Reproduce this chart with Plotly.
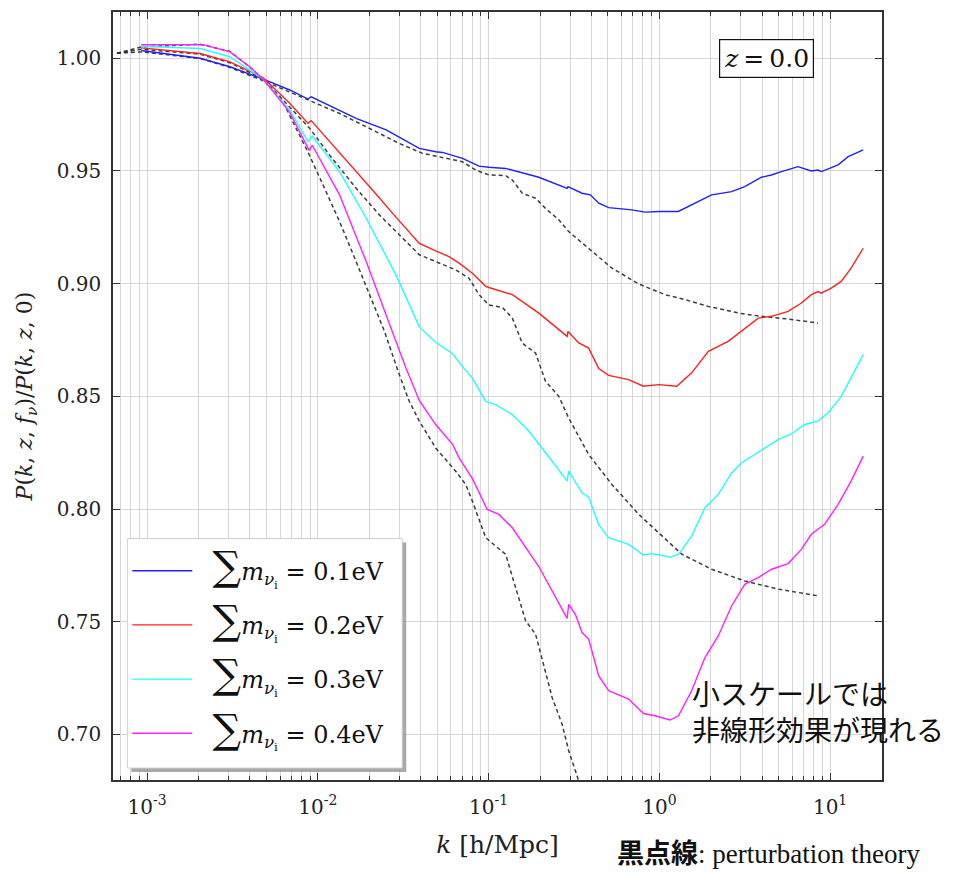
import numpy as np
import plotly.graph_objects as go

# ---- data: log10(k [h/Mpc]) and P(k,z,f_nu)/P(k,z,0) ----
logk_01 = [-3.035, -2.69, -2.515, -2.32, -2.165, -2.058, -2.039, -1.776, -1.60, -1.406, -1.31, -1.27,
           -1.153, -1.056, -0.998, -0.90, -0.706, -0.54, -0.535, -0.453, -0.404, -0.355, -0.297, -0.161,
           -0.083, 0.005, 0.111, 0.189, 0.306, 0.423, 0.50, 0.598, 0.656, 0.715, 0.812, 0.89, 0.929, 0.95,
           0.99, 1.047, 1.106, 1.194]
ratio_01 = [1.0034, 1.0000, 0.9962, 0.9907, 0.9859, 0.9819, 0.9829, 0.9733, 0.9682, 0.9600, 0.9585, 0.9582,
            0.9556, 0.9521, 0.9516, 0.9511, 0.9472, 0.9423, 0.9430, 0.9401, 0.9394, 0.9357, 0.9337, 0.9327,
            0.9317, 0.9320, 0.9320, 0.9349, 0.9394, 0.9408, 0.9430, 0.9472, 0.9482, 0.9497, 0.9519, 0.9500,
            0.9504, 0.9497, 0.9509, 0.9527, 0.9563, 0.9593]

logk_02 = [-3.035, -2.69, -2.515, -2.32, -2.165, -2.058, -2.039, -1.854, -1.679, -1.543, -1.406, -1.31,
           -1.232, -1.173, -1.095, -1.017, -0.998, -0.861, -0.706, -0.54, -0.535, -0.472, -0.414, -0.355,
           -0.297, -0.18, -0.093, -0.005, 0.102, 0.189, 0.287, 0.403, 0.52, 0.579, 0.657, 0.754, 0.832,
           0.89, 0.929, 0.948, 1.007, 1.065, 1.123, 1.194]
ratio_02 = [1.0046, 1.0021, 0.9984, 0.9913, 0.9800, 0.9711, 0.9723, 0.9566, 0.9414, 0.9295, 0.9178, 0.9145,
            0.9120, 0.9091, 0.9046, 0.8988, 0.8983, 0.8951, 0.8869, 0.8766, 0.8788, 0.8737, 0.8714, 0.8623,
            0.8593, 0.8574, 0.8545, 0.8552, 0.8545, 0.8604, 0.8700, 0.8744, 0.8810, 0.8847, 0.8855, 0.8877,
            0.8914, 0.8951, 0.8965, 0.8958, 0.8980, 0.9010, 0.9069, 0.9157]

logk_03 = [-3.035, -2.69, -2.515, -2.40, -2.32, -2.165, -2.058, -2.033, -1.873, -1.717, -1.543, -1.406,
           -1.31, -1.21, -1.154, -1.095, -1.017, -0.959, -0.861, -0.764, -0.706, -0.628, -0.54, -0.531,
           -0.453, -0.414, -0.355, -0.297, -0.18, -0.093, -0.044, 0.063, 0.112, 0.189, 0.267, 0.345, 0.423,
           0.481, 0.559, 0.617, 0.695, 0.773, 0.85, 0.929, 0.987, 1.065, 1.123, 1.194]
ratio_03 = [1.0053, 1.0043, 1.0006, 0.9947, 0.9907, 0.9770, 0.9630, 0.9654, 0.9497, 0.9290, 0.9039, 0.8808,
            0.8740, 0.8688, 0.8633, 0.8581, 0.8478, 0.8463, 0.8419, 0.8345, 0.8290, 0.8212, 0.8124, 0.8168,
            0.8072, 0.8053, 0.7930, 0.7873, 0.7843, 0.7796, 0.7802, 0.7787, 0.7799, 0.7880, 0.8006, 0.8065,
            0.8160, 0.8205, 0.8242, 0.8271, 0.8308, 0.8333, 0.8375, 0.8390, 0.8426, 0.8500, 0.8581, 0.8685]

logk_04 = [-3.035, -2.671, -2.515, -2.40, -2.32, -2.165, -2.05, -2.033, -1.873, -1.717, -1.543, -1.484,
           -1.406, -1.31, -1.21, -1.173, -1.095, -1.008, -0.94, -0.861, -0.706, -0.628, -0.54, -0.531,
           -0.492, -0.453, -0.414, -0.355, -0.297, -0.18, -0.093, -0.025, 0.063, 0.112, 0.189, 0.267, 0.345,
           0.423, 0.50, 0.579, 0.657, 0.754, 0.832, 0.89, 0.968, 1.047, 1.123, 1.194]
ratio_04 = [1.0060, 1.0060, 1.0028, 0.9962, 0.9907, 0.9760, 0.9590, 0.9614, 0.9394, 0.9098, 0.8744, 0.8626,
            0.8482, 0.8375, 0.8286, 0.8227, 0.8135, 0.7998, 0.7976, 0.7917, 0.7745, 0.7637, 0.7515, 0.7577,
            0.7533, 0.7452, 0.7423, 0.7260, 0.7194, 0.7157, 0.7093, 0.7083, 0.7064, 0.7083, 0.7194, 0.7341,
            0.7437, 0.7570, 0.7666, 0.7696, 0.7733, 0.7758, 0.7821, 0.7888, 0.7932, 0.8021, 0.8124, 0.8235]

# perturbation theory (black dashed)
logk_pt1 = [-3.177, -3.035, -2.69, -2.515, -2.32, -2.165, -2.048, -1.873, -1.698, -1.523, -1.387, -1.27,
            -1.154, -1.076, -0.998, -0.90, -0.861, -0.803, -0.725, -0.667, -0.589, -0.531, -0.414, -0.278,
            -0.12, 0.033, 0.15, 0.287, 0.481, 0.598, 0.754, 0.929]
ratio_pt1 = [1.0022, 1.0028, 0.9999, 0.9959, 0.9900, 0.9851, 0.9812, 0.9755, 0.9689, 0.9622, 0.9578, 0.9560,
             0.9541, 0.9504, 0.9482, 0.9479, 0.9460, 0.9401, 0.9379, 0.9334, 0.9283, 0.9231, 0.9157, 0.9069,
             0.8998, 0.8951, 0.8929, 0.8899, 0.8867, 0.8855, 0.8843, 0.8825]

logk_pt2 = [-3.177, -3.035, -2.69, -2.515, -2.32, -2.165, -2.048, -1.932, -1.776, -1.64, -1.523, -1.406,
            -1.31, -1.193, -1.115, -1.056, -0.998, -0.92, -0.861, -0.803, -0.725, -0.667, -0.589, -0.531,
            -0.414, -0.278, -0.12, 0.033, 0.131, 0.306, 0.50, 0.695, 0.929]
ratio_pt2 = [1.0022, 1.0040, 1.0018, 0.9980, 0.9908, 0.9785, 0.9689, 0.9571, 0.9423, 0.9305, 0.9216, 0.9128,
             0.9098, 0.9061, 0.9024, 0.8951, 0.8905, 0.8895, 0.8847, 0.8736, 0.8692, 0.8567, 0.8500, 0.8404,
             0.8242, 0.8109, 0.7976, 0.7866, 0.7800, 0.7733, 0.7681, 0.7645, 0.7615]

logk_pt4 = [-3.177, -3.035, -2.69, -2.515, -2.40, -2.32, -2.204, -2.059, -1.97, -1.873, -1.776, -1.698,
            -1.61, -1.523, -1.465, -1.406, -1.31, -1.193, -1.134, -1.095, -1.017, -0.959, -0.90, -0.842,
            -0.783, -0.725, -0.686, -0.628, -0.57, -0.531, -0.482, -0.46]
ratio_pt4 = [1.0022, 1.0050, 1.0062, 1.0030, 0.9962, 0.9905, 0.9805, 0.9585, 0.9438, 0.9275, 0.9098, 0.8951,
             0.8788, 0.8596, 0.8478, 0.8390, 0.8271, 0.8168, 0.8109, 0.8035, 0.7873, 0.7836, 0.7799, 0.7651,
             0.7504, 0.7445, 0.7327, 0.7164, 0.7046, 0.6928, 0.6817, 0.6760]

mass_labels = ["0.1eV", "0.2eV", "0.3eV", "0.4eV"]
series_colors = ["#2020ff", "#ff2020", "#20ffff", "#ff20ff"]
y_ticks = [0.70, 0.75, 0.80, 0.85, 0.90, 0.95, 1.00]
x_ticks = [1e-3, 1e-2, 1e-1, 1e0, 1e1]
x_ticktext = ["10<sup>-3</sup>", "10<sup>-2</sup>", "10<sup>-1</sup>", "10<sup>0</sup>", "10<sup>1</sup>"]

SERIF = "DejaVu Serif"
fig = go.Figure()

for lk, pr in [(logk_pt1, ratio_pt1), (logk_pt2, ratio_pt2), (logk_pt4, ratio_pt4)]:
    fig.add_trace(go.Scatter(x=10 ** np.array(lk), y=pr, mode="lines", showlegend=False,
                             line=dict(color="rgba(40,40,40,0.9)", width=1.5, dash="4px,3px")))

sim = [(logk_01, ratio_01), (logk_02, ratio_02), (logk_03, ratio_03), (logk_04, ratio_04)]
for (lk, pr), lab, col in zip(sim, mass_labels, series_colors):
    name = ("&nbsp;&nbsp;<span style='font-size:40px'>∑</span><i>m</i><sub><i>ν</i><sub>i</sub></sub>"
            " = " + lab)
    fig.add_trace(go.Scatter(x=10 ** np.array(lk), y=pr, mode="lines", name=name,
                             legendgroup=lab, line=dict(color=col, width=1.4)))

minor_vals = [d * 10.0 ** e for e in range(-4, 2) for d in range(2, 10)]

fig.update_xaxes(type="log", range=[-3.2, 1.304], showline=True, linecolor="#333", linewidth=1.5,
                 mirror="ticks", ticks="inside", ticklen=7, tickwidth=1, tickcolor="#333",
                 tickvals=x_ticks, ticktext=x_ticktext, showgrid=True, gridcolor="#d6d6d6", gridwidth=1,
                 zeroline=False, ticklabelstandoff=8,
                 minor=dict(tickvals=minor_vals, ticks="inside", ticklen=4, tickcolor="#333",
                            showgrid=True, gridcolor="#d6d6d6", gridwidth=1),
                 tickfont=dict(family=SERIF, size=20, color="#222"),
                 title=dict(text="<i>k</i> [h/Mpc]", font=dict(family=SERIF, size=25, color="#222"),
                            standoff=18))
fig.update_yaxes(range=[0.6798, 1.0205], showline=True, linecolor="#333", linewidth=1.5,
                 mirror="ticks", ticks="inside", ticklen=7, tickwidth=1, tickcolor="#333",
                 tickvals=y_ticks, tickformat=".2f", showgrid=True, gridcolor="#d6d6d6", gridwidth=1,
                 zeroline=False, ticklabelstandoff=6,
                 tickfont=dict(family=SERIF, size=20, color="#222"),
                 title=dict(text="<i>P</i>(<i>k</i>, <i>z</i>, <i>f</i><sub><i>ν</i></sub>)/"
                                 "<i>P</i>(<i>k</i>, <i>z</i>, 0)",
                            font=dict(family=SERIF, size=22, color="#222"), standoff=18))

fig.update_layout(
    width=953, height=872, margin=dict(l=113, r=71, t=10, b=92),
    paper_bgcolor="white", plot_bgcolor="white",
    legend=dict(x=0.0186, y=0.3013, xanchor="left", yanchor="top", bgcolor="rgba(0,0,0,0)",
                borderwidth=0, tracegroupgap=20, itemwidth=60,
                font=dict(family=SERIF, size=24, color="#111")),
    shapes=[
        dict(type="rect", xref="paper", yref="paper", x0=0.0238, x1=0.3813, y0=0.0104, y1=0.3091,
             fillcolor="rgba(140,140,140,0.75)", line=dict(width=0), layer="above"),
        dict(type="rect", xref="paper", yref="paper", x0=0.0186, x1=0.3761, y0=0.0156, y1=0.3143,
             fillcolor="white", line=dict(width=1, color="#cfcfcf"), layer="above"),
    ],
    annotations=[
        dict(text="<i>z</i>&#8201;=&#8201;0.0", xref="paper", yref="paper", x=0.8492, y=0.9396,
             xanchor="center", yanchor="middle", showarrow=False,
             font=dict(family=SERIF, size=25, color="#111"), bordercolor="#111", borderwidth=1.2,
             borderpad=4, bgcolor="white"),
        dict(text="小スケールでは<br>非線形効果が現れる", xref="paper", yref="paper", x=0.7504, y=0.0900,
             xanchor="left", yanchor="middle", align="left", showarrow=False,
             font=dict(family="Noto Sans CJK JP", size=28, color="#111")),
        dict(text="<span style='font-family:Noto Sans CJK JP;font-weight:bold;font-size:27px'>黒点線</span>:"
                  " perturbation theory",
             xref="paper", yref="paper", x=0.6525, y=-0.0935, xanchor="left", yanchor="middle",
             showarrow=False, font=dict(family="Liberation Serif", size=27, color="#111")),
    ],
)

fig.write_html("out.html")
